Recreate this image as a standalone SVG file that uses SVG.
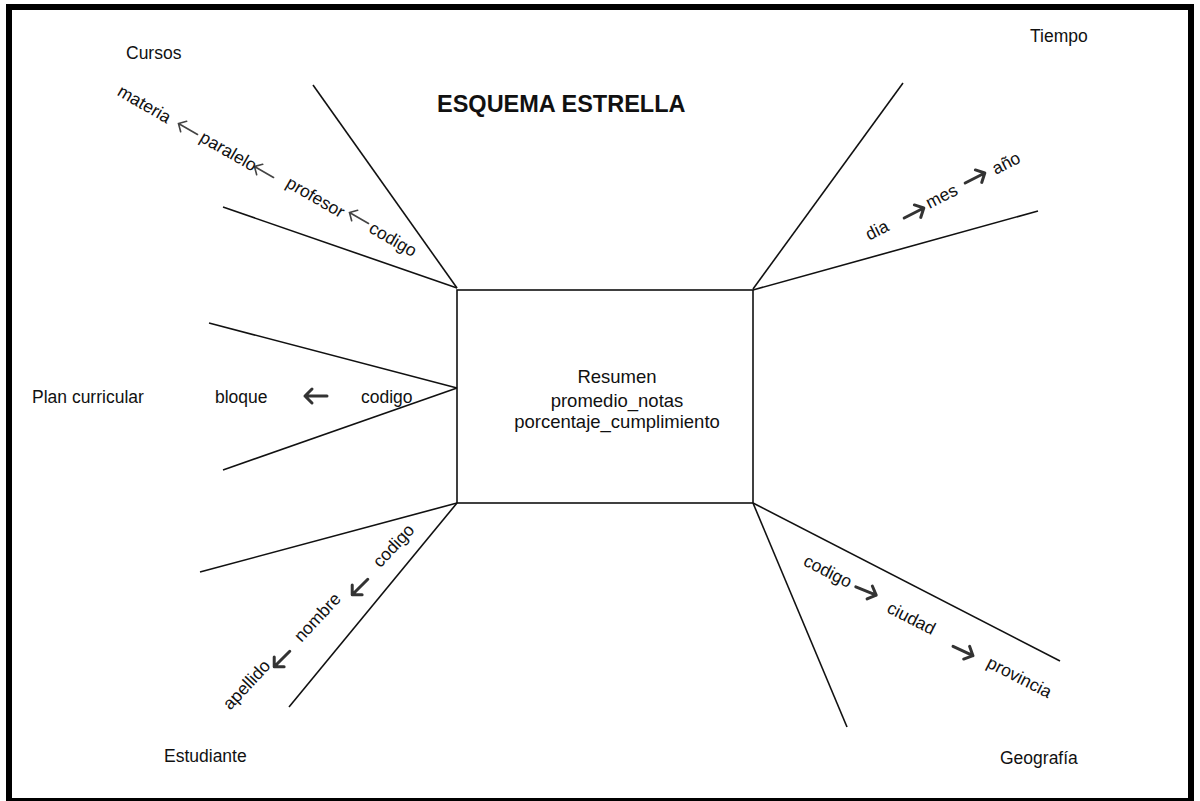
<svg xmlns="http://www.w3.org/2000/svg" width="1200" height="801" viewBox="0 0 1200 801">
<style>
.t{font-family:"Liberation Sans",Arial,sans-serif;font-size:17.5px;fill:#111}
.c{font-family:"Liberation Sans",Arial,sans-serif;font-size:18.5px;fill:#111;text-anchor:middle}
.r{font-family:"Liberation Sans",Arial,sans-serif;font-size:17.5px;fill:#111;text-anchor:middle}
.ttl{font-family:"Liberation Sans",Arial,sans-serif;font-size:23.5px;font-weight:bold;fill:#111}
.ln{stroke:#111;stroke-width:1.6;fill:none}
.thin{stroke:#444;stroke-width:1.6;fill:none;stroke-linecap:round}
.bold{stroke:#333;stroke-width:3;fill:none;stroke-linecap:round;stroke-linejoin:round}
</style>
<rect x="0" y="0" width="1200" height="801" fill="#fff"/>
<rect x="9" y="7" width="1182" height="794" fill="none" stroke="#000" stroke-width="6"/>
<text class="ttl" x="437" y="112">ESQUEMA ESTRELLA</text>

<g id="fact">
<rect x="457" y="290" width="296" height="213" fill="#fff" stroke="#111" stroke-width="1.6"/>
<text class="c" x="617" y="383">Resumen</text>
<text class="c" x="617" y="407">promedio_notas</text>
<text class="c" x="617" y="428">porcentaje_cumplimiento</text>
</g>

<g id="connectors">
<line class="ln" x1="313" y1="85" x2="457" y2="288"/>
<line class="ln" x1="223" y1="207" x2="457" y2="288"/>
<line class="ln" x1="903" y1="83" x2="753" y2="289"/>
<line class="ln" x1="1038" y1="211" x2="753" y2="290"/>
<line class="ln" x1="209" y1="323" x2="457" y2="388"/>
<line class="ln" x1="223" y1="470" x2="457" y2="388"/>
<line class="ln" x1="200" y1="572" x2="457" y2="503"/>
<line class="ln" x1="289" y1="707" x2="457" y2="503"/>
<line class="ln" x1="1060" y1="661" x2="753" y2="503"/>
<line class="ln" x1="847" y1="727" x2="753" y2="503"/>
<path class="thin" transform="translate(188,129) rotate(30)" d="M11,0 H-11 M-5,-6 L-11,0 L-5,6"/>
<path class="thin" transform="translate(264,172) rotate(30)" d="M11,0 H-11 M-5,-6 L-11,0 L-5,6"/>
<path class="thin" transform="translate(359,218) rotate(30)" d="M11,0 H-11 M-5,-6 L-11,0 L-5,6"/>
<path class="bold" transform="translate(914,213) rotate(-27)" d="M-11,0 H11 M4,-7 L11,0 L4,7"/>
<path class="bold" transform="translate(975,178) rotate(-27)" d="M-11,0 H11 M4,-7 L11,0 L4,7"/>
<path class="bold" transform="translate(316,396)" d="M11,0 H-11 M-4,-7 L-11,0 L-4,7"/>
<path class="bold" transform="translate(360,587) rotate(-45)" d="M11,0 H-11 M-4,-7 L-11,0 L-4,7"/>
<path class="bold" transform="translate(282,659) rotate(-45)" d="M11,0 H-11 M-4,-7 L-11,0 L-4,7"/>
<path class="bold" transform="translate(866,591) rotate(22)" d="M-11,0 H11 M4,-7 L11,0 L4,7"/>
<path class="bold" transform="translate(963,651) rotate(25)" d="M-11,0 H11 M4,-7 L11,0 L4,7"/>
</g>

<g id="cursos">
<text class="t" x="126" y="59">Cursos</text>
<text class="r" transform="translate(144,105) rotate(30)" y="5">materia</text>
<text class="r" transform="translate(228,152) rotate(30)" y="5">paralelo</text>
<text class="r" transform="translate(315,198) rotate(30)" y="5">profesor</text>
<text class="r" transform="translate(392,241) rotate(30)" y="4">codigo</text>
</g>

<g id="tiempo">
<text class="t" x="1030" y="42">Tiempo</text>
<text class="r" transform="translate(877,230) rotate(-27)" y="6">dia</text>
<text class="r" transform="translate(942,197) rotate(-27)" y="5">mes</text>
<text class="r" transform="translate(1006,163) rotate(-27)" y="6">año</text>
</g>

<g id="plan">
<text class="t" x="32" y="403">Plan curricular</text>
<text class="t" x="215" y="403">bloque</text>
<text class="t" x="361" y="403">codigo</text>
</g>

<g id="estudiante">
<text class="t" x="164" y="762">Estudiante</text>
<text class="r" transform="translate(395,547) rotate(-47)" y="4">codigo</text>
<text class="r" transform="translate(318,618) rotate(-47)" y="5">nombre</text>
<text class="r" transform="translate(248,686) rotate(-47)" y="4">apellido</text>
</g>

<g id="geografia">
<text class="t" x="1000" y="764">Geografía</text>
<text class="r" transform="translate(827,573) rotate(27)" y="4">codigo</text>
<text class="r" transform="translate(911,619) rotate(27)" y="5">ciudad</text>
<text class="r" transform="translate(1019,678) rotate(27)" y="5">provincia</text>
</g>
</svg>
